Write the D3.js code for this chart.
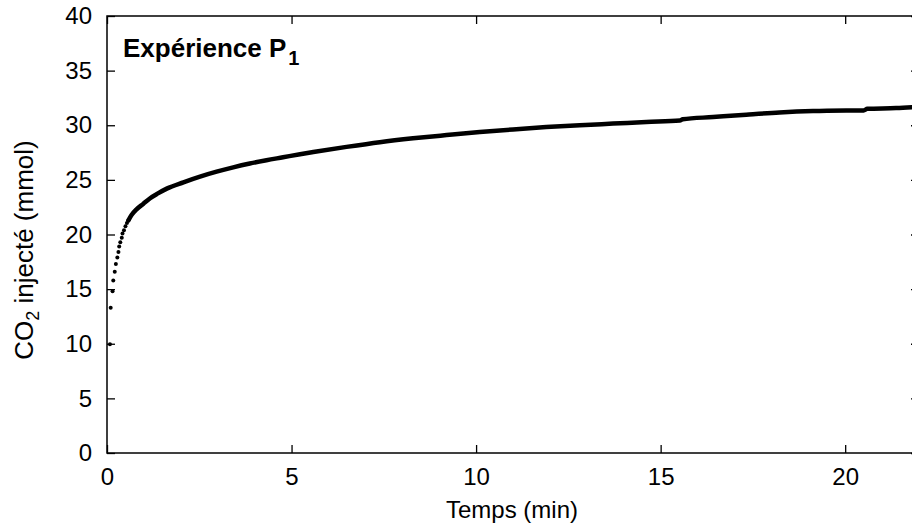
<!DOCTYPE html>
<html><head><meta charset="utf-8">
<script src="https://cdn.jsdelivr.net/npm/d3@7"></script>
<style>
html,body{margin:0;padding:0;background:#fff;}
svg{display:block;font-family:"Liberation Sans",Arial,sans-serif;}
</style></head>
<body>
<svg id="c" width="912" height="529"></svg>
<script>
// early, well-separated measurement points
const earlyT = [0.08,0.10,0.15,0.17,0.21,0.24,0.28,0.31,0.33,0.36,0.40,0.42,0.46,0.50,0.54,0.58];
const earlyY = [9.95,13.3,14.8,15.8,16.6,17.3,17.9,18.4,18.9,19.3,19.7,20.1,20.4,20.75,21.05,21.3];
// dense part of the record (readings along the curve)
const curveT = [0.58,0.67,0.8,0.98,1.16,1.38,1.62,2.07,2.52,2.97,3.42,3.87,4.32,4.77,5.23,5.59,6.49,7.39,8.29,9.2,10.1,11.0,11.9,12.81,13.71,14.61,15.52,15.6,16.42,17.32,18.22,19.13,20.03,20.5,20.6,21.38,22.0];
const curveY = [21.3,21.8,22.3,22.8,23.3,23.76,24.2,24.78,25.3,25.75,26.15,26.5,26.8,27.07,27.35,27.55,28.02,28.45,28.8,29.1,29.38,29.62,29.83,30.0,30.15,30.3,30.43,30.55,30.75,30.97,31.17,31.3,31.35,31.36,31.5,31.57,31.7];
const xTicks = [0,5,10,15,20];
const yTicks = [0,5,10,15,20,25,30,35,40];

const svg = d3.select("#c");
const L = 107, R = 919, T = 16, B = 453;
const x = d3.scaleLinear().domain([0,22]).range([L,R]);
const y = d3.scaleLinear().domain([0,40]).range([B,T]);
const fs = 24;

const axStyle = g => {
  g.select(".domain").remove();
  g.selectAll(".tick line").attr("stroke","#000").attr("stroke-width",1.3);
  g.selectAll(".tick text").attr("fill","#000").style("font-size",fs+"px").style("font-family","'Liberation Sans',Arial,sans-serif");
};
svg.append("g").attr("transform",`translate(0,${B})`)
  .call(d3.axisBottom(x).tickValues(xTicks).tickSizeInner(-8).tickSizeOuter(0).tickPadding(15).tickFormat(d3.format("d")))
  .call(axStyle);
svg.append("g").attr("transform",`translate(0,${T})`)
  .call(d3.axisTop(x).tickValues(xTicks).tickSizeInner(-8).tickSizeOuter(0).tickFormat(""))
  .call(axStyle);
svg.append("g").attr("transform",`translate(${L},0)`)
  .call(d3.axisLeft(y).tickValues(yTicks).tickSizeInner(-8).tickSizeOuter(0).tickPadding(15).tickFormat(d3.format("d")))
  .call(axStyle);
svg.append("g").attr("transform",`translate(${R},0)`)
  .call(d3.axisRight(y).tickValues(yTicks).tickSizeInner(-8).tickSizeOuter(0).tickFormat(""))
  .call(axStyle);

svg.append("rect").attr("x",L).attr("y",T).attr("width",R-L).attr("height",B-T)
  .attr("fill","none").attr("stroke","#000").attr("stroke-width",1.5);

// data
const early = earlyT.map((t,i)=>({t, v: earlyY[i]}));
const curve = curveT.map((t,i)=>({t, v: curveY[i]}));
svg.append("g").selectAll("circle").data(early).join("circle")
  .attr("cx",d=>x(d.t)).attr("cy",d=>y(d.v)).attr("r",2).attr("fill","#000");
svg.append("path").datum(curve)
  .attr("d", d3.line().x(d=>x(d.t)).y(d=>y(d.v)).curve(d3.curveMonotoneX))
  .attr("fill","none").attr("stroke","#000").attr("stroke-width",4.5).attr("stroke-linecap","round");

// title
const title = svg.append("text").attr("x",123).attr("y",57).attr("font-weight","bold").style("font-size","26px");
title.append("tspan").text("Expérience P");
title.append("tspan").attr("dx",2).attr("dy",8).style("font-size","20px").text("1");

// axis labels
svg.append("text").attr("x",512).attr("y",518).attr("text-anchor","middle").style("font-size",fs+"px").text("Temps (min)");
const yl = svg.append("text").attr("transform","translate(33,250) rotate(-90)").attr("text-anchor","middle").style("font-size","26px");
yl.append("tspan").text("CO");
yl.append("tspan").attr("dy",6).style("font-size","18px").text("2");
yl.append("tspan").attr("dy",-6).text(" injecté (mmol)");
</script>
</body></html>
